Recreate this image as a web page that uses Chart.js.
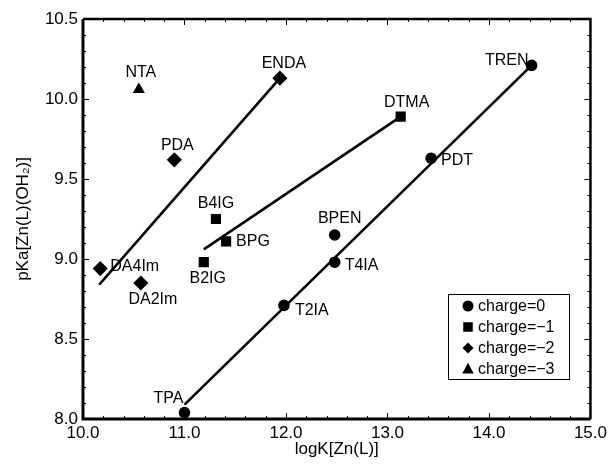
<!DOCTYPE html>
<html>
<head>
<meta charset="utf-8">
<script src="https://cdn.jsdelivr.net/npm/chart.js@4/dist/chart.umd.min.js"></script>
<style>
  html, body { margin: 0; padding: 0; background: #fff; }
  #wrap { width: 611px; height: 466px; position: relative; }
</style>
</head>
<body>
<div id="wrap"><canvas id="chart"></canvas></div>
<script>
// charge = 0 (circles)
const c0Names = ['TPA', 'T2IA', 'T4IA', 'BPEN', 'PDT', 'TREN'];
const c0X = [11.00, 11.98, 12.48, 12.48, 13.43, 14.42];
const c0Y = [8.04, 8.71, 8.98, 9.15, 9.63, 10.21];

// charge = -1 (squares)
const c1Names = ['B2IG', 'B4IG', 'BPG', 'DTMA'];
const c1X = [11.19, 11.31, 11.41, 13.13];
const c1Y = [8.98, 9.25, 9.11, 9.89];

// charge = -2 (diamonds)
const c2Names = ['DA4Im', 'DA2Im', 'PDA', 'ENDA'];
const c2X = [10.17, 10.57, 10.90, 11.94];
const c2Y = [8.94, 8.85, 9.62, 10.13];

// charge = -3 (triangle)
const c3Names = ['NTA'];
const c3X = [10.55];
const c3Y = [10.06];

// fitted lines (end points)
const fit0X = [11.00, 14.42], fit0Y = [8.09, 10.21];
const fit1X = [11.19, 13.13], fit1Y = [9.06, 9.89];
const fit2X = [10.16, 11.94], fit2Y = [8.84, 10.13];

const legendLabels = ['charge=0', 'charge=\u22121', 'charge=\u22122', 'charge=\u22123'];
const xTitle = 'logK[Zn(L)]';
const yTitle = 'pKa[Zn(L)(OH\u2082)]';

const FONT = '"Liberation Sans", Arial, Helvetica, sans-serif';

// where each point label sits relative to its marker
const labelPlace = {
  TPA:   { align: 'right',  dx: -1, dy: -14 },
  T2IA:  { align: 'left',   dx: 11, dy: 5 },
  T4IA:  { align: 'left',   dx: 10, dy: 3 },
  BPEN:  { align: 'center', dx: 5,  dy: -16 },
  PDT:   { align: 'left',   dx: 10, dy: 2 },
  TREN:  { align: 'right',  dx: -3, dy: -5 },
  DTMA:  { align: 'center', dx: 6,  dy: -14 },
  ENDA:  { align: 'center', dx: 4,  dy: -15 },
  NTA:   { align: 'center', dx: 2,  dy: -17 },
  PDA:   { align: 'center', dx: 3,  dy: -14 },
  B4IG:  { align: 'center', dx: 0,  dy: -15 },
  BPG:   { align: 'left',   dx: 10, dy: 0 },
  B2IG:  { align: 'center', dx: 4,  dy: 16 },
  DA4Im: { align: 'left',   dx: 10, dy: -2 },
  DA2Im: { align: 'center', dx: 12, dy: 17 },
};

const toXY = (xs, ys) => xs.map((x, i) => ({ x, y: ys[i] }));

const pointSet = (label, names, xs, ys, style, radius) => ({
  type: 'scatter',
  label,
  names,
  data: toXY(xs, ys),
  pointStyle: style,
  pointRadius: radius,
  pointHoverRadius: radius,
  backgroundColor: '#000',
  borderColor: '#000',
  borderWidth: 0,
  order: 0,
});

const lineSet = (xs, ys) => ({
  type: 'line',
  data: toXY(xs, ys),
  borderColor: '#000',
  borderWidth: 2.6,
  pointRadius: 0,
  showLine: true,
  fill: false,
  order: 1,
});

const markers = [
  { style: 'circle', r: 5.8 },
  { style: 'rect', r: 7.2 },
  { style: 'rectRot', r: 7.6 },
  { style: 'triangle', r: 7 },
];

const drawMarker = (ctx, style, x, y, size) => {
  ctx.beginPath();
  if (style === 'circle') {
    ctx.arc(x, y, size / 2, 0, Math.PI * 2);
  } else if (style === 'rect') {
    ctx.rect(x - size / 2, y - size / 2, size, size);
  } else if (style === 'rectRot') {
    ctx.moveTo(x, y - size / 2); ctx.lineTo(x + size / 2, y);
    ctx.lineTo(x, y + size / 2); ctx.lineTo(x - size / 2, y);
  } else {
    ctx.moveTo(x, y - size * 0.55); ctx.lineTo(x + size / 2, y + size * 0.4);
    ctx.lineTo(x - size / 2, y + size * 0.4);
  }
  ctx.closePath();
  ctx.fill();
};

// frame, inward ticks, point labels and the boxed legend
const decorations = {
  id: 'decorations',
  afterDatasetsDraw(chart) {
    const { ctx, chartArea: a, scales: { x, y } } = chart;
    ctx.save();
    ctx.strokeStyle = '#000';
    ctx.fillStyle = '#000';

    // ticks
    ctx.lineWidth = 1;
    for (let i = 0; i <= 25; i++) {
      const v = 10 + i * 0.2;
      const px = Math.round(x.getPixelForValue(v)) + 0.5;
      const len = i % 5 === 0 ? 6 : 3;
      ctx.beginPath();
      ctx.moveTo(px, a.bottom); ctx.lineTo(px, a.bottom - len);
      ctx.moveTo(px, a.top); ctx.lineTo(px, a.top + len);
      ctx.stroke();
    }
    for (let i = 0; i <= 25; i++) {
      const v = 8 + i * 0.1;
      const py = Math.round(y.getPixelForValue(v)) + 0.5;
      const len = i % 5 === 0 ? 6 : 3;
      ctx.beginPath();
      ctx.moveTo(a.left, py); ctx.lineTo(a.left + len, py);
      ctx.moveTo(a.right, py); ctx.lineTo(a.right - len, py);
      ctx.stroke();
    }

    // frame
    ctx.lineWidth = 3;
    ctx.beginPath();
    ctx.moveTo(a.left, a.top); ctx.lineTo(a.left, a.bottom); ctx.lineTo(a.right, a.bottom);
    ctx.stroke();
    ctx.lineWidth = 2.5;
    ctx.beginPath();
    ctx.moveTo(a.left, a.top); ctx.lineTo(a.right, a.top); ctx.lineTo(a.right, a.bottom);
    ctx.stroke();

    // point labels
    ctx.font = '16px ' + FONT;
    ctx.textBaseline = 'middle';
    chart.data.datasets.forEach((ds, di) => {
      if (!ds.names) return;
      const meta = chart.getDatasetMeta(di);
      ds.names.forEach((name, i) => {
        const p = meta.data[i];
        const pl = labelPlace[name];
        ctx.textAlign = pl.align;
        ctx.fillText(name, p.x + pl.dx, p.y + pl.dy);
      });
    });

    // legend
    const bx = 448.5, by = 294.5, bw = 121, bh = 85;
    ctx.fillStyle = '#fff';
    ctx.fillRect(bx, by, bw, bh);
    ctx.lineWidth = 1;
    ctx.strokeRect(bx, by, bw, bh);
    ctx.fillStyle = '#000';
    ctx.textAlign = 'left';
    const sizes = [11, 9.5, 11, 11.5];
    legendLabels.forEach((t, i) => {
      const ry = 306 + i * 21;
      drawMarker(ctx, markers[i].style, 468, ry, sizes[i]);
      ctx.fillText(t, 478, ry + 1);
    });
    ctx.restore();
  },
};

new Chart(document.getElementById('chart'), {
  data: {
    datasets: [
      pointSet('charge=0', c0Names, c0X, c0Y, markers[0].style, markers[0].r),
      pointSet('charge=-1', c1Names, c1X, c1Y, markers[1].style, markers[1].r),
      pointSet('charge=-2', c2Names, c2X, c2Y, markers[2].style, markers[2].r),
      pointSet('charge=-3', c3Names, c3X, c3Y, markers[3].style, markers[3].r),
      lineSet(fit0X, fit0Y),
      lineSet(fit1X, fit1Y),
      lineSet(fit2X, fit2Y),
    ],
  },
  options: {
    responsive: true,
    maintainAspectRatio: false,
    animation: false,
    layout: { padding: { top: 19, right: 16, left: 0, bottom: 0 } },
    plugins: {
      legend: { display: false },
      tooltip: { enabled: false },
    },
    scales: {
      x: {
        type: 'linear',
        min: 10, max: 15,
        grid: { display: false, drawTicks: false },
        border: { display: false },
        ticks: {
          stepSize: 1,
          color: '#000',
          padding: 4,
          font: { size: 17, family: FONT },
          callback: (v) => v.toFixed(1),
        },
        title: {
          display: true,
          text: xTitle,
          color: '#000',
          font: { size: 17, family: FONT },
          padding: { top: 0, bottom: 6 },
        },
        afterFit: (s) => { s.height = 47; },
      },
      y: {
        type: 'linear',
        min: 8, max: 10.5,
        grid: { display: false, drawTicks: false },
        border: { display: false },
        ticks: {
          stepSize: 0.5,
          color: '#000',
          padding: 5,
          font: { size: 17, family: FONT },
          callback: (v) => v.toFixed(1),
        },
        title: {
          display: true,
          text: yTitle,
          color: '#000',
          font: { size: 17, family: FONT },
          padding: { top: 13, bottom: 0 },
        },
        afterFit: (s) => { s.width = 83; },
      },
    },
  },
  plugins: [decorations],
});
</script>
</body>
</html>
